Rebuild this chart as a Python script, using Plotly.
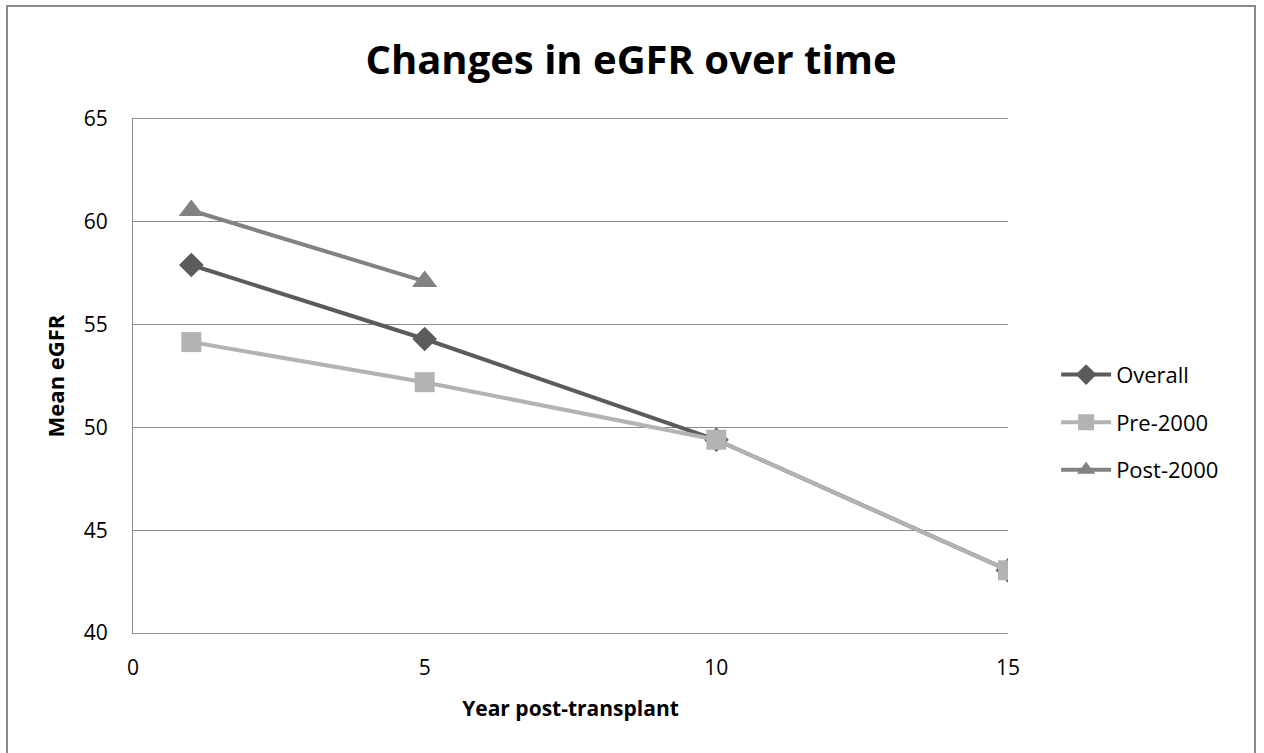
import plotly.graph_objects as go

years = [1, 5, 10, 15]
overall = [57.9, 54.3, 49.4, 43.05]
pre2000 = [54.15, 52.2, 49.4, 43.05]
post_years = [1, 5]
post2000 = [60.55, 57.1]

FONT = "Open Sans"

fig = go.Figure()
fig.add_trace(go.Scatter(x=years, y=overall, name="Overall", mode="lines+markers",
                         legendgroup="a",
                         line=dict(color="#5b5b5b", width=4),
                         marker=dict(symbol="diamond", size=19, color="#5b5b5b")))
fig.add_trace(go.Scatter(x=years, y=pre2000, name="Pre-2000", mode="lines+markers",
                         legendgroup="b",
                         line=dict(color="#b3b3b3", width=4),
                         marker=dict(symbol="square", size=20, color="#b3b3b3")))
fig.add_trace(go.Scatter(x=post_years, y=post2000, name="Post-2000", mode="lines+markers",
                         legendgroup="c",
                         line=dict(color="#828282", width=4),
                         marker=dict(symbol="triangle-up", size=22, color="#828282")))

fig.update_layout(
    width=1264, height=753,
    paper_bgcolor="white", plot_bgcolor="white",
    margin=dict(l=133, r=256, t=119, b=120),
    font=dict(family=FONT, color="#000000", size=20),
    title=dict(text="<b>Changes in eGFR over time</b>", x=0.4992, xanchor="center",
               y=0.92, yanchor="middle", font=dict(size=40, family=FONT)),
    xaxis=dict(range=[0, 15], tickvals=[0, 5, 10, 15], showgrid=False,
               showline=True, mirror=True, linecolor="#8c8c8c", linewidth=1, ticks="",
               zeroline=False, tickfont=dict(size=21), ticklabelstandoff=16,
               title=dict(text="<b>Year post-transplant</b>", font=dict(size=21), standoff=21)),
    yaxis=dict(range=[40, 65], tickvals=[40, 45, 50, 55, 60, 65], showgrid=True,
               gridcolor="#8c8c8c", gridwidth=1, showline=True, linecolor="#8c8c8c",
               linewidth=1, ticks="", zeroline=False, tickfont=dict(size=21),
               ticklabelstandoff=20,
               title=dict(text="<b>Mean eGFR</b>", font=dict(size=22), standoff=13)),
    legend=dict(x=1.055, y=0.41, xanchor="left", yanchor="middle",
                font=dict(size=22), itemwidth=50, traceorder="grouped",
                tracegroupgap=16, bgcolor="rgba(0,0,0,0)"),
    showlegend=True,
    shapes=[dict(type="rect", xref="paper", yref="paper",
                 x0=-0.144, x1=1.2823, y0=-0.35, y1=1.2198,
                 line=dict(color="#8a8a8a", width=2), fillcolor="rgba(0,0,0,0)")],
)

fig.write_html("out.html")
